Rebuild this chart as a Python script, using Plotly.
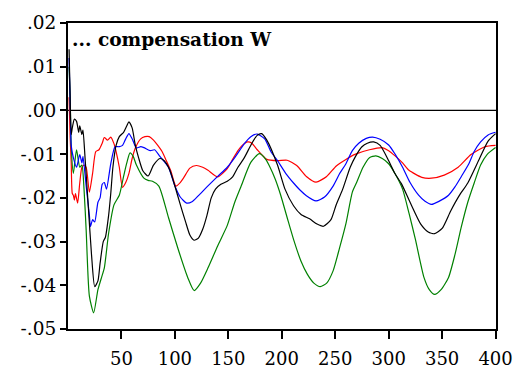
import plotly.graph_objects as go

# Black series
black_x = [1, 2, 3, 4, 6, 8, 10, 11, 13, 14, 16, 19, 22, 25, 28, 30, 33, 35, 38, 40, 42, 45, 48, 52, 55, 57, 60, 63, 66, 70, 75, 80, 86, 90, 95, 100, 105, 110, 114, 118, 122, 126, 130, 134, 138, 143, 149, 154, 159, 165, 172, 177, 181, 186, 196, 203, 211, 218, 226, 233, 239, 246, 251, 257, 264, 269, 275, 280, 286, 292, 300, 306, 312, 320, 330, 337, 343, 350, 358, 366, 374, 385, 393, 400]
black_y = [0.014, 0.003, -0.0055, -0.004, -0.002, -0.0025, -0.005, -0.0035, -0.0055, -0.0045, -0.011, -0.022, -0.033, -0.0403, -0.039, -0.035, -0.030, -0.029, -0.024, -0.019, -0.013, -0.008, -0.006, -0.005, -0.0035, -0.0026, -0.004, -0.008, -0.0108, -0.0138, -0.015, -0.0125, -0.011, -0.0115, -0.0135, -0.0173, -0.0215, -0.0255, -0.0285, -0.0297, -0.0292, -0.0272, -0.024, -0.020, -0.018, -0.0169, -0.0162, -0.0152, -0.013, -0.0108, -0.0075, -0.0057, -0.0053, -0.0068, -0.0125, -0.018, -0.0218, -0.0238, -0.0248, -0.026, -0.0265, -0.025, -0.0215, -0.018, -0.013, -0.0105, -0.0083, -0.0075, -0.0072, -0.008, -0.0115, -0.0145, -0.0168, -0.021, -0.026, -0.0278, -0.0282, -0.027, -0.023, -0.0195, -0.0166, -0.011, -0.007, -0.0053]

# Blue series
blue_x = [1, 2, 3, 5, 8, 11, 13, 14, 17, 20, 21, 23, 25, 28, 30, 32, 34, 36, 40, 44, 48, 51, 54, 57, 60, 64, 68, 71, 77, 81, 86, 94, 100, 105, 111, 116, 122, 130, 140, 149, 156, 165, 171, 177, 184, 190, 196, 204, 211, 217, 223, 232, 240, 248, 254, 260, 266, 272, 279, 285, 292, 300, 306, 313, 320, 328, 334, 340, 347, 356, 362, 368, 375, 380, 386, 393, 400]
blue_y = [0.012, 0.002, -0.008, -0.0108, -0.013, -0.0101, -0.012, -0.0105, -0.0173, -0.024, -0.0266, -0.025, -0.0255, -0.021, -0.020, -0.0169, -0.0165, -0.018, -0.0122, -0.0083, -0.0083, -0.008, -0.0065, -0.0053, -0.0065, -0.0086, -0.0083, -0.0085, -0.0092, -0.009, -0.0105, -0.013, -0.0173, -0.0198, -0.0212, -0.0209, -0.0195, -0.0175, -0.0151, -0.013, -0.0108, -0.0076, -0.006, -0.0054, -0.0065, -0.0095, -0.0115, -0.0145, -0.0166, -0.0182, -0.0195, -0.0207, -0.0198, -0.0173, -0.0145, -0.0122, -0.0092, -0.0075, -0.0064, -0.0061, -0.0066, -0.0079, -0.0100, -0.013, -0.0165, -0.0194, -0.0208, -0.0215, -0.0208, -0.0194, -0.0175, -0.0151, -0.0122, -0.0094, -0.0072, -0.0056, -0.005]

# Red series
red_x = [1, 2, 3, 4, 5, 6, 7, 9, 11, 13, 15, 17, 20, 23, 26, 29, 32, 34, 37, 40, 43, 45, 48, 51, 54, 57, 60, 63, 68, 72, 76, 80, 84, 88, 92, 96, 101, 105, 108, 114, 120, 126, 131, 140, 149, 154, 159, 163, 168, 172, 177, 186, 196, 205, 214, 223, 232, 242, 251, 260, 269, 282, 294, 300, 306, 313, 319, 331, 340, 352, 365, 377, 390, 400]
red_y = [0.003, -0.006, -0.012, -0.019, -0.0194, -0.0205, -0.019, -0.0212, -0.0166, -0.013, -0.0125, -0.013, -0.0187, -0.0144, -0.0094, -0.009, -0.0075, -0.0062, -0.0068, -0.0061, -0.0076, -0.0094, -0.013, -0.0176, -0.0165, -0.0144, -0.011, -0.0086, -0.0065, -0.006, -0.006, -0.0068, -0.008, -0.0094, -0.0115, -0.0137, -0.0173, -0.0165, -0.0155, -0.0132, -0.0126, -0.013, -0.0137, -0.0152, -0.0133, -0.0112, -0.0092, -0.0080, -0.0072, -0.0075, -0.009, -0.0112, -0.0115, -0.0114, -0.0126, -0.0151, -0.0164, -0.0151, -0.0127, -0.0112, -0.0100, -0.009, -0.0085, -0.0092, -0.0104, -0.012, -0.0137, -0.0153, -0.0155, -0.0148, -0.013, -0.0101, -0.0083, -0.008]

# Green series
green_x = [1, 2, 3, 5, 8, 11, 13, 15, 17, 20, 24, 28, 31, 34, 38, 43, 48, 52, 55, 58, 61, 64, 71, 75, 79, 85, 94, 103, 112, 118, 124, 131, 140, 149, 156, 162, 171, 179, 185, 189, 194, 199, 205, 211, 218, 224, 230, 236, 242, 248, 254, 260, 266, 270, 276, 282, 288, 294, 300, 306, 313, 319, 325, 333, 338, 343, 349, 356, 362, 368, 374, 380, 386, 392, 400]
green_y = [0.010, 0.003, -0.008, -0.0144, -0.009, -0.013, -0.0125, -0.018, -0.0274, -0.0425, -0.0463, -0.041, -0.0385, -0.036, -0.0281, -0.0216, -0.0194, -0.0151, -0.012, -0.0097, -0.0105, -0.0125, -0.0155, -0.016, -0.0162, -0.0173, -0.0245, -0.0317, -0.0382, -0.0412, -0.0395, -0.036, -0.031, -0.0263, -0.021, -0.0173, -0.0119, -0.0099, -0.0112, -0.013, -0.0158, -0.0194, -0.0245, -0.0295, -0.0345, -0.0375, -0.0395, -0.0403, -0.0395, -0.0367, -0.0315, -0.0259, -0.0187, -0.0165, -0.013, -0.0108, -0.0104, -0.011, -0.0122, -0.0145, -0.018, -0.0235, -0.0295, -0.0382, -0.041, -0.0421, -0.041, -0.0382, -0.033, -0.0266, -0.021, -0.0166, -0.0125, -0.0101, -0.0085]

tick_vals_y = [-0.05, -0.04, -0.03, -0.02, -0.01, 0.0, 0.01, 0.02]
tick_text_y = ["-.05", "-.04", "-.03", "-.02", "-.01", ".00", ".01", ".02"]
tick_vals_x = [50, 100, 150, 200, 250, 300, 350, 400]
title_text = "... compensation W"

SERIF = "DejaVu Serif"

fig = go.Figure()
for xs, ys, col in [(red_x, red_y, "#ff0000"), (green_x, green_y, "#008000"),
                    (blue_x, blue_y, "#0000ff"), (black_x, black_y, "#000000")]:
    fig.add_trace(go.Scatter(x=xs, y=ys, mode="lines",
                             line=dict(color=col, width=1.2, shape="spline", smoothing=0.6),
                             hoverinfo="skip", showlegend=False))

fig.add_shape(type="line", xref="x", yref="y", x0=0, x1=400.4, y0=0, y1=0,
              line=dict(color="black", width=1.3), layer="below")

fig.add_annotation(text="<b>" + title_text + "</b>", xref="paper", yref="paper",
                   x=0.004, y=0.945, xanchor="left", yanchor="middle", showarrow=False,
                   font=dict(family=SERIF, size=18.6, color="black"))

fig.update_layout(
    width=525, height=381,
    margin=dict(l=68, r=23, t=18, b=39),
    paper_bgcolor="white", plot_bgcolor="white",
    font=dict(family=SERIF, size=18, color="black"),
    showlegend=False,
)
fig.update_xaxes(range=[0, 400.4], tickvals=tick_vals_x, ticks="outside", ticklen=8,
                 tickwidth=1.5, tickcolor="black", showgrid=False, zeroline=False,
                 showline=True, linewidth=2, linecolor="black", mirror=True,
                 ticklabelstandoff=4,
                 tickfont=dict(family=SERIF, size=18))
fig.update_yaxes(range=[-0.05, 0.02], tickvals=tick_vals_y, ticktext=tick_text_y,
                 ticks="outside", ticklen=6, tickwidth=1.5, tickcolor="black",
                 showgrid=False, zeroline=False,
                 showline=True, linewidth=2, linecolor="black", mirror=True,
                 tickfont=dict(family=SERIF, size=18.5))

fig.write_html("out.html")
